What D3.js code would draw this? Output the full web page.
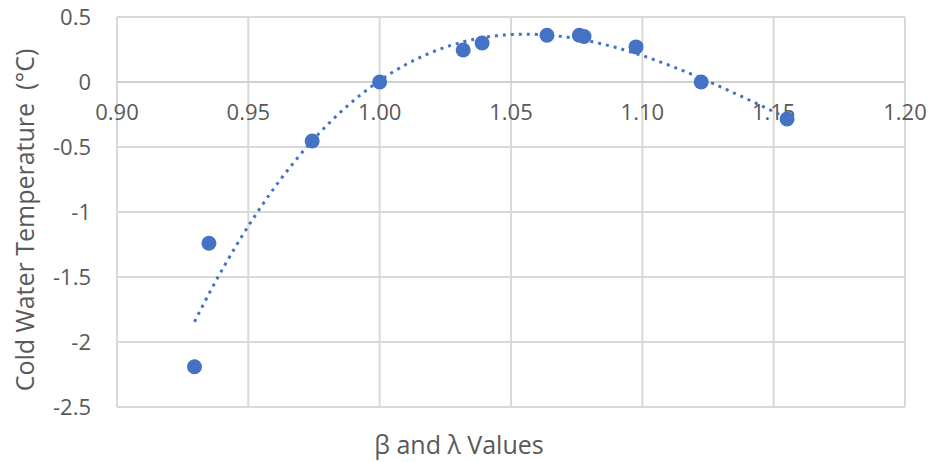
<!DOCTYPE html>
<html>
<head>
<meta charset="utf-8">
<script src="https://cdn.jsdelivr.net/npm/d3@7"></script>
<style>
  body { margin: 0; background: #fff; }
  svg text { font-family: "Open Sans", "Liberation Sans", sans-serif; fill: #595959; }
</style>
</head>
<body>
<svg id="chart" width="934" height="462"></svg>
<script>
// values
const betaLambda = [0.9295, 0.935, 0.9743, 1.000, 1.0318, 1.039, 1.0637, 1.0760, 1.0778, 1.0976, 1.1224, 1.1551];
const coldWaterTemp = [-2.19, -1.24, -0.454, 0.0, 0.246, 0.30, 0.36, 0.36, 0.35, 0.27, 0.0, -0.285];
const xTicks = [0.90, 0.95, 1.00, 1.05, 1.10, 1.15, 1.20];
const yTicks = [0.5, 0, -0.5, -1, -1.5, -2, -2.5];

const svg = d3.select("#chart");
const margin = { left: 117, right: 29, top: 17, bottom: 55 };
const W = 934, H = 462;

const x = d3.scaleLinear().domain([0.90, 1.20]).range([margin.left, W - margin.right]);
const y = d3.scaleLinear().domain([-2.5, 0.5]).range([H - margin.bottom, margin.top]);

const grid = svg.append("g");
// vertical grid lines
grid.selectAll("line.v").data(xTicks).enter().append("line")
  .attr("x1", d => x(d)).attr("x2", d => x(d))
  .attr("y1", y(0.5)).attr("y2", y(-2.5))
  .attr("stroke", "#d9d9d9").attr("stroke-width", 2);
// horizontal grid lines
grid.selectAll("line.h").data(yTicks).enter().append("line")
  .attr("x1", x(0.90)).attr("x2", x(1.20))
  .attr("y1", d => y(d)).attr("y2", d => y(d))
  .attr("stroke", d => d === 0 ? "#d0d0d0" : "#d9d9d9").attr("stroke-width", 2);

// y tick labels
svg.append("g").selectAll("text").data(yTicks).enter().append("text")
  .attr("x", 91).attr("y", d => y(d))
  .attr("dy", "0.35em")
  .attr("text-anchor", "end")
  .style("font-size", "22px")
  .text(d => d === 0 ? "0" : d3.format("")(d).replace("−", "-"));

// x tick labels, sitting under the zero line
svg.append("g").selectAll("text").data(xTicks).enter().append("text")
  .attr("x", d => x(d)).attr("y", y(0) + 38)
  .attr("text-anchor", "middle")
  .style("font-size", "22px")
  .text(d => d3.format(".2f")(d));

// polynomial trendline (order 3 least squares)
function polyFit(xs, ys, order) {
  const n = order + 1;
  const A = [], b = [];
  for (let i = 0; i < n; i++) {
    A.push(new Array(n).fill(0));
    b.push(0);
  }
  xs.forEach((xv, k) => {
    const t = xv - 1;
    for (let i = 0; i < n; i++) {
      for (let j = 0; j < n; j++) A[i][j] += Math.pow(t, i + j);
      b[i] += ys[k] * Math.pow(t, i);
    }
  });
  for (let i = 0; i < n; i++) {
    let p = i;
    for (let r = i + 1; r < n; r++) if (Math.abs(A[r][i]) > Math.abs(A[p][i])) p = r;
    [A[i], A[p]] = [A[p], A[i]]; [b[i], b[p]] = [b[p], b[i]];
    for (let r = i + 1; r < n; r++) {
      const f = A[r][i] / A[i][i];
      for (let c = i; c < n; c++) A[r][c] -= f * A[i][c];
      b[r] -= f * b[i];
    }
  }
  const coef = new Array(n).fill(0);
  for (let i = n - 1; i >= 0; i--) {
    let s = b[i];
    for (let c = i + 1; c < n; c++) s -= A[i][c] * coef[c];
    coef[i] = s / A[i][i];
  }
  return t => coef.reduce((acc, c, i) => acc + c * Math.pow(t - 1, i), 0);
}
const fit = polyFit(betaLambda, coldWaterTemp, 3);
const xs = d3.range(0, 101).map(i => d3.min(betaLambda) + (d3.max(betaLambda) - d3.min(betaLambda)) * i / 100);
const line = d3.line().x(d => x(d)).y(d => y(fit(d))).curve(d3.curveLinear);
svg.append("path")
  .datum(xs)
  .attr("d", line)
  .attr("fill", "none")
  .attr("stroke", "#4472C4")
  .attr("stroke-width", 3)
  .attr("stroke-dasharray", "3,5");

// markers
svg.append("g").selectAll("circle").data(betaLambda).enter().append("circle")
  .attr("cx", d => x(d))
  .attr("cy", (d, i) => y(coldWaterTemp[i]))
  .attr("r", 7.5)
  .attr("fill", "#4472C4");

// axis titles
svg.append("text")
  .attr("x", 459).attr("y", 454)
  .attr("text-anchor", "middle")
  .style("font-size", "25px")
  .text("β and λ Values");

svg.append("text")
  .attr("transform", `translate(34,${(y(0.5) + y(-2.5)) / 2 + 8}) rotate(-90)`)
  .attr("text-anchor", "middle")
  .style("font-size", "25px")
  .style("white-space", "pre")
  .text("Cold Water Temperature  (°C)");
</script>
</body>
</html>
